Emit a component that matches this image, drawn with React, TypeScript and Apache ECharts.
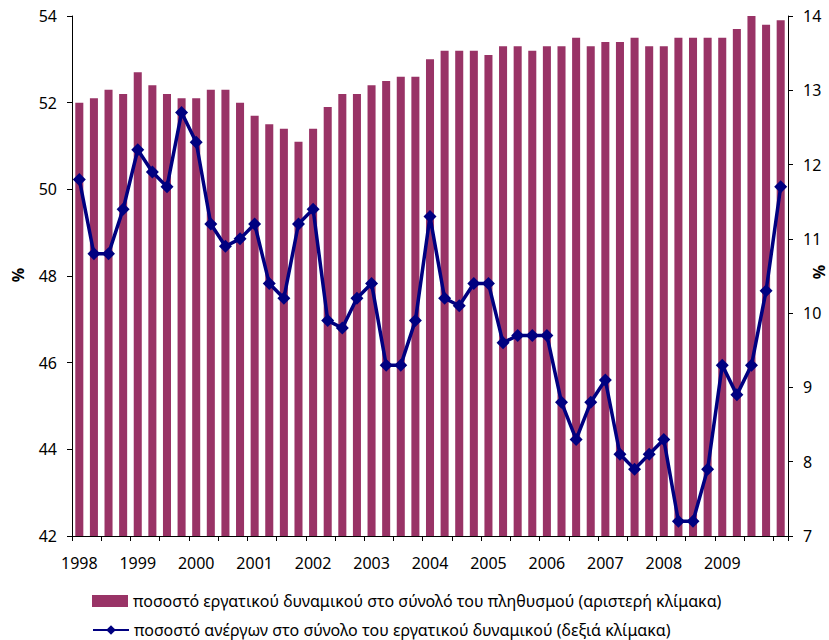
import React, { useEffect, useRef } from "react";
import * as echarts from "echarts";

const years = ["1998", "1999", "2000", "2001", "2002", "2003", "2004", "2005", "2006", "2007", "2008", "2009", "2010"];
const quarters = ["Q1", "Q2", "Q3", "Q4"];
const categories: string[] = [];
years.forEach((y) => quarters.forEach((q) => categories.push(y + " " + q)));
categories.length = 49;

const participationRate = [
  52.0, 52.1, 52.3, 52.2, 52.7, 52.4, 52.2, 52.1, 52.1, 52.3, 52.3, 52.0,
  51.7, 51.5, 51.4, 51.1, 51.4, 51.9, 52.2, 52.2, 52.4, 52.5, 52.6, 52.6,
  53.0, 53.2, 53.2, 53.2, 53.1, 53.3, 53.3, 53.2, 53.3, 53.3, 53.5, 53.3,
  53.4, 53.4, 53.5, 53.3, 53.3, 53.5, 53.5, 53.5, 53.5, 53.7, 54.0, 53.8,
  53.9,
];

const unemploymentRate = [
  11.8, 10.8, 10.8, 11.4, 12.2, 11.9, 11.7, 12.7, 12.3, 11.2, 10.9, 11.0,
  11.2, 10.4, 10.2, 11.2, 11.4, 9.9, 9.8, 10.2, 10.4, 9.3, 9.3, 9.9,
  11.3, 10.2, 10.1, 10.4, 10.4, 9.6, 9.7, 9.7, 9.7, 8.8, 8.3, 8.8,
  9.1, 8.1, 7.9, 8.1, 8.3, 7.2, 7.2, 7.9, 9.3, 8.9, 9.3, 10.3,
  11.7,
];

const seriesNames = [
  "ποσοστό εργατικού δυναμικού στο σύνολό του πληθυσμού (αριστερή κλίμακα)",
  "ποσοστό ανέργων στο σύνολο του εργατικού δυναμικού (δεξιά κλίμακα)",
];

const axisUnit = "%";

const FONT = "Noto Sans";

export default function App() {
  const ref = useRef<HTMLDivElement>(null);
  useEffect(() => {
    if (!ref.current) return;
    const chart = echarts.init(ref.current, null, { renderer: "svg" });
    const axisLine = { show: true, lineStyle: { color: "#000", width: 1 } };
    const axisTick = { show: true, length: 5, lineStyle: { color: "#000" } };
    const labelStyle = { fontFamily: FONT, fontSize: 16, color: "#000" };
    const legendBase = {
      orient: "horizontal",
      left: 92,
      itemWidth: 36,
      itemHeight: 12,
      padding: 0,
      textStyle: { fontFamily: FONT, fontSize: 16, lineHeight: 16, color: "#000" },
    };
    const unitStyle = {
      text: axisUnit,
      fontFamily: FONT,
      fontSize: 16,
      fontWeight: "bold",
      fill: "#000",
      textAlign: "center",
      textVerticalAlign: "middle",
    };
    chart.setOption({
      animation: false,
      backgroundColor: "#fff",
      textStyle: { fontFamily: FONT },
      grid: { left: 72, right: 41, top: 16, bottom: 104, containLabel: false },
      graphic: [
        { type: "text", x: 18, y: 275, rotation: Math.PI / 2, style: unitStyle },
        { type: "text", x: 819, y: 272, rotation: Math.PI / 2, style: unitStyle },
      ],
      legend: [
        { ...legendBase, top: 593, data: [{ name: seriesNames[0], icon: "rect" }] },
        { ...legendBase, top: 622, data: [{ name: seriesNames[1] }] },
      ],
      xAxis: {
        type: "category",
        data: categories,
        boundaryGap: true,
        axisLine,
        axisTick: { ...axisTick, interval: 1, alignWithLabel: false },
        axisLabel: {
          ...labelStyle,
          interval: 0,
          margin: 19,
          formatter: (v: string, i: number) =>
            i % 4 === 0 && i < 48 ? v.slice(0, 4) : "",
        },
        splitLine: { show: false },
      },
      yAxis: [
        {
          type: "value",
          min: 42,
          max: 54,
          interval: 2,
          axisLine,
          axisTick,
          axisLabel: { ...labelStyle, margin: 15 },
          splitLine: { show: false },
        },
        {
          type: "value",
          min: 7,
          max: 14,
          interval: 1,
          axisLine,
          axisTick,
          axisLabel: { ...labelStyle, margin: 15 },
          splitLine: { show: false },
        },
      ],
      series: [
        {
          name: seriesNames[0],
          type: "bar",
          yAxisIndex: 0,
          data: participationRate,
          barWidth: "55%",
          itemStyle: { color: "#993366" },
        },
        {
          name: seriesNames[1],
          type: "line",
          yAxisIndex: 1,
          data: unemploymentRate,
          symbol: "diamond",
          symbolSize: 13,
          lineStyle: { color: "#000080", width: 3.5 },
          itemStyle: { color: "#000080" },
        },
      ],
    });
    return () => chart.dispose();
  }, []);
  return <div ref={ref} style={{ width: 829, height: 640, position: "absolute", left: 0, top: 0 }} />;
}
